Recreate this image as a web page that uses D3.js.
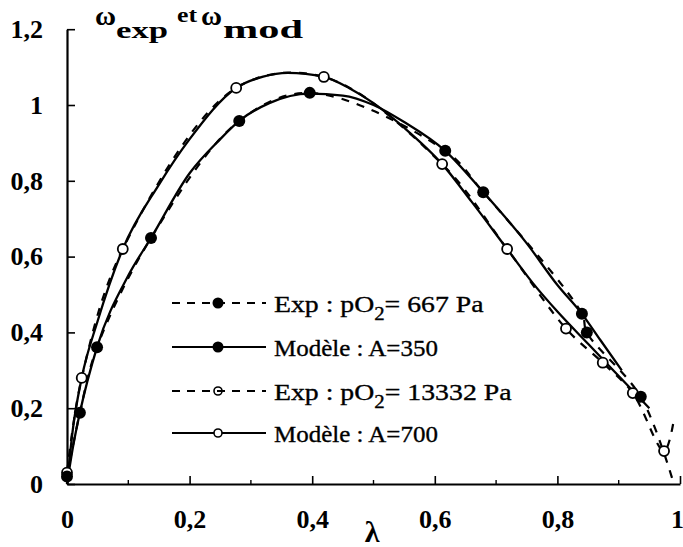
<!DOCTYPE html>
<html>
<head>
<meta charset="utf-8">
<script src="https://cdn.jsdelivr.net/npm/d3@7"></script>
<style>
  html, body { margin: 0; padding: 0; background: #fff; }
  svg { display: block; }
</style>
</head>
<body>
<svg id="chart" width="683" height="547"></svg>
<script>
// ---------- data ----------
const xTickValues = [0, 0.2, 0.4, 0.6, 0.8, 1];
const xTickLabels = ["0", "0,2", "0,4", "0,6", "0,8", "1"];
const xMinorTicks = [0.1, 0.3, 0.5, 0.7, 0.9];
const yTickValues = [0, 0.2, 0.4, 0.6, 0.8, 1, 1.2];
const yTickLabels = ["0", "0,2", "0,4", "0,6", "0,8", "1", "1,2"];

// Exp : pO2 = 667 Pa (filled circles, dashed)
const exp667X = [0, 0.021, 0.049, 0.137, 0.281, 0.396, 0.617, 0.679, 0.840, 0.848, 0.936];
const exp667Y = [0.02, 0.188, 0.361, 0.649, 0.958, 1.032, 0.879, 0.770, 0.449, 0.400, 0.230];
const exp667TailX = [0.99];
const exp667TailY = [0.0];

// Modèle : A = 350 (solid)
const mod350X = [0, 0.01, 0.021, 0.049, 0.1, 0.137, 0.2, 0.25, 0.281, 0.33, 0.396, 0.45, 0.5, 0.55, 0.617, 0.679, 0.75, 0.8, 0.84, 0.87, 0.905];
const mod350Y = [0, 0.10, 0.188, 0.361, 0.55, 0.649, 0.82, 0.91, 0.958, 1.005, 1.03, 1.025, 1.0, 0.955, 0.879, 0.77, 0.635, 0.525, 0.449, 0.38, 0.30];

// Exp : pO2 = 13332 Pa (open circles, dashed)
const exp13332X = [0, 0.024, 0.091, 0.276, 0.419, 0.612, 0.718, 0.814, 0.874, 0.923, 0.974];
const exp13332Y = [0.03, 0.28, 0.62, 1.045, 1.074, 0.844, 0.62, 0.41, 0.32, 0.24, 0.087];
const exp13332TailX = [0.99];
const exp13332TailY = [0.17];

// Modèle : A = 700 (solid)
const mod700X = [0, 0.01, 0.024, 0.05, 0.091, 0.15, 0.2, 0.276, 0.32, 0.36, 0.419, 0.46, 0.5, 0.55, 0.612, 0.66, 0.718, 0.76, 0.8, 0.85, 0.9, 0.95];
const mod700Y = [0, 0.15, 0.28, 0.43, 0.62, 0.79, 0.91, 1.045, 1.075, 1.085, 1.074, 1.045, 1.005, 0.94, 0.844, 0.745, 0.62, 0.53, 0.455, 0.37, 0.285, 0.20];

const legendLabels = [
  { main: "Exp : pO", sub: "2", rest: "= 667 Pa" },
  { main: "Modèle : A=350" },
  { main: "Exp : pO", sub: "2", rest: "= 13332 Pa" },
  { main: "Modèle : A=700" }
];

// ---------- chart ----------
const FONT = '"Liberation Serif", "Times New Roman", Tinos, serif';
const svg = d3.select("#chart");
const x = d3.scaleLinear().domain([0, 1]).range([67, 680]);
const y = d3.scaleLinear().domain([0, 1.2]).range([484, 29.2]);

const zip = (xs, ys) => xs.map((v, i) => [v, ys[i]]);

// axes
const xAxis = d3.axisBottom(x)
  .tickValues(xTickValues)
  .tickFormat((d, i) => xTickLabels[i])
  .tickSizeInner(-8).tickSizeOuter(0).tickPadding(26);
const gx = svg.append("g").attr("transform", `translate(0,${y(0)})`).call(xAxis);
gx.select(".domain").attr("stroke-width", 2.2);
gx.selectAll(".tick line").attr("stroke-width", 1.6);
gx.selectAll(".tick text")
  .style("font-family", FONT).style("font-size", "26px").style("font-weight", "bold")
  .attr("dx", (d, i) => i === xTickValues.length - 1 ? -3 : 0);
svg.append("g").selectAll("line").data(xMinorTicks).join("line")
  .attr("x1", d => x(d)).attr("x2", d => x(d))
  .attr("y1", y(0)).attr("y2", y(0) - 4)
  .attr("stroke", "#000").attr("stroke-width", 1.4);

const yAxis = d3.axisLeft(y)
  .tickValues(yTickValues)
  .tickFormat((d, i) => yTickLabels[i])
  .tickSizeInner(-8).tickSizeOuter(0).tickPadding(24);
const gy = svg.append("g").attr("transform", `translate(${x(0)},0)`).call(yAxis);
gy.select(".domain").attr("stroke-width", 2.2);
gy.selectAll(".tick line").attr("stroke-width", 1.6);
gy.selectAll(".tick text")
  .style("font-family", FONT).style("font-size", "26px").style("font-weight", "bold");

// x-axis title
svg.append("text").attr("x", 372).attr("y", 542).attr("text-anchor", "middle")
  .style("font-family", FONT).style("font-size", "30px").style("font-weight", "bold").text("λ");

// chart title (stretched glyphs like the source)
const titleParts = [
  { t: "ω", x: 95, y: 25, size: 28, w: 21 },
  { t: "exp", x: 116, y: 38, size: 23, w: 52 },
  { t: "et", x: 177, y: 22, size: 20, w: 20 },
  { t: "ω", x: 201, y: 25, size: 28, w: 21 },
  { t: "mod", x: 223, y: 38, size: 25, w: 80 }
];
svg.append("g").selectAll("text").data(titleParts).join("text")
  .attr("x", d => d.x).attr("y", d => d.y)
  .style("font-family", FONT).style("font-weight", "bold")
  .style("font-size", d => d.size + "px")
  .attr("textLength", d => d.w).attr("lengthAdjust", "spacingAndGlyphs")
  .text(d => d.t);

// lines
const line = d3.line().x(d => x(d[0])).y(d => y(d[1])).curve(d3.curveMonotoneX);
const lineExp = d3.line().x(d => x(d[0])).y(d => y(d[1])).curve(d3.curveCatmullRom.alpha(0.5));
const plot = svg.append("g");
plot.append("path").attr("d", line(zip(mod350X, mod350Y)))
  .attr("fill", "none").attr("stroke", "#000").attr("stroke-width", 2.3);
plot.append("path").attr("d", line(zip(mod700X, mod700Y)))
  .attr("fill", "none").attr("stroke", "#000").attr("stroke-width", 2.3);
plot.append("path").attr("d", lineExp(zip(exp667X.concat(exp667TailX), exp667Y.concat(exp667TailY))))
  .attr("fill", "none").attr("stroke", "#000").attr("stroke-width", 2.2)
  .attr("stroke-dasharray", "8,8");
plot.append("path").attr("d", lineExp(zip(exp13332X.concat(exp13332TailX), exp13332Y.concat(exp13332TailY))))
  .attr("fill", "none").attr("stroke", "#000").attr("stroke-width", 2.2)
  .attr("stroke-dasharray", "8,8");

// markers
plot.append("g").selectAll("circle").data(zip(exp13332X, exp13332Y)).join("circle")
  .attr("cx", d => x(d[0])).attr("cy", d => y(d[1])).attr("r", 5)
  .attr("fill", "#fff").attr("stroke", "#000").attr("stroke-width", 1.8);
plot.append("g").selectAll("circle").data(zip(exp667X, exp667Y)).join("circle")
  .attr("cx", d => x(d[0])).attr("cy", d => y(d[1])).attr("r", 6)
  .attr("fill", "#000");

// legend
const legRows = [303, 347, 391, 433];
const leg = svg.append("g");
legRows.forEach((ry, i) => {
  const dashed = (i % 2 === 0);
  leg.append("line").attr("x1", 172).attr("x2", 266).attr("y1", ry).attr("y2", ry)
    .attr("stroke", "#000").attr("stroke-width", 2)
    .attr("stroke-dasharray", dashed ? "8,7" : null);
  if (i < 2) {
    leg.append("circle").attr("cx", 218).attr("cy", ry).attr("r", 5.5).attr("fill", "#000");
  } else {
    leg.append("circle").attr("cx", 218).attr("cy", ry).attr("r", 4)
      .attr("fill", i === 2 ? "none" : "#fff").attr("stroke", "#000").attr("stroke-width", 1.6);
  }
  const lab = legendLabels[i];
  const t = leg.append("text").attr("x", 274).attr("y", ry + 9)
    .style("font-family", FONT).style("font-size", "24px")
    .style("stroke", "#000").style("stroke-width", 0.35);
  t.append("tspan").text(lab.main);
  if (lab.sub) {
    t.append("tspan").attr("dy", 8).style("font-size", "18px").text(lab.sub);
    t.append("tspan").attr("dy", -8).text(lab.rest);
  }
});
// stretch legend text horizontally to source widths
const legWidths = [210, 164, 238, 164];
leg.selectAll("text").each(function(d, i) {
  const w = this.getBBox().width;
  const s = legWidths[i] / w;
  d3.select(this).attr("transform", `translate(274,0) scale(${s},1) translate(-274,0)`);
});
</script>
</body>
</html>
